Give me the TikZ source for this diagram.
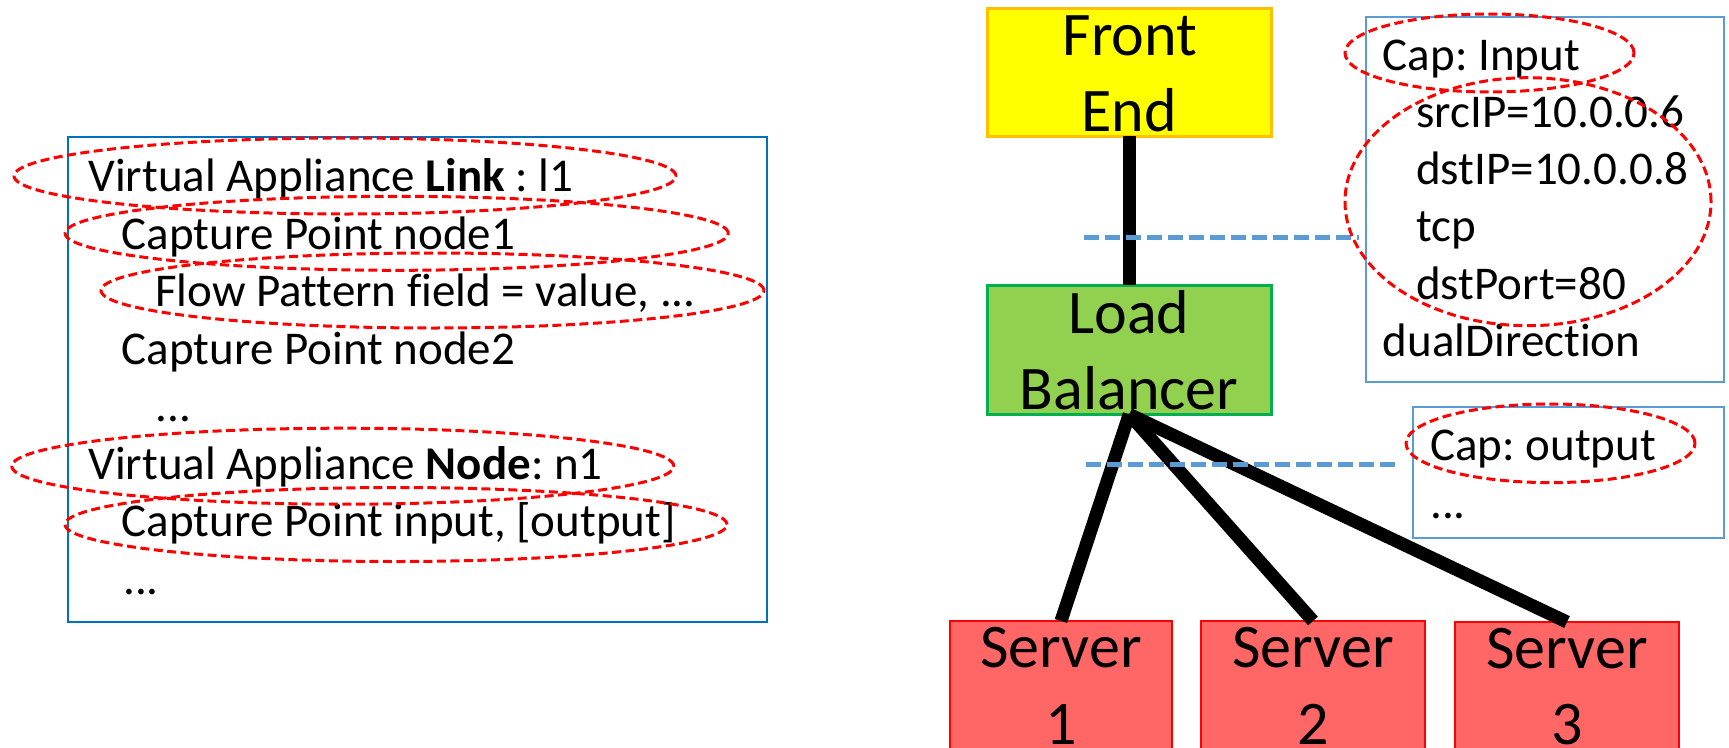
\documentclass[tikz,border=0pt]{standalone}
\usepackage{fontspec}
\setmainfont{Carlito}[Ligatures=NoCommon]
\frenchspacing
\definecolor{feFill}{HTML}{FFFF00}
\definecolor{feLine}{HTML}{FFC000}
\definecolor{lbFill}{HTML}{92D050}
\definecolor{lbLine}{HTML}{00B050}
\definecolor{srvFill}{HTML}{FF6666}
\definecolor{srvLine}{HTML}{FF0000}
\definecolor{specLine}{HTML}{0070C0}
\definecolor{capLine}{HTML}{5B9BD5}
\definecolor{cutLine}{HTML}{5B9BD5}
\definecolor{ovalRed}{HTML}{FF0000}
\begin{document}
\begin{tikzpicture}[x=1pt,y=-1pt,
  box/.style={draw, inner sep=0pt, outer sep=0pt},
  specbox/.style={box, draw=specLine, line width=2pt},
  capbox/.style={box, draw=capLine, line width=2pt},
  febox/.style={box, fill=feFill, draw=feLine, line width=3pt},
  lbbox/.style={box, fill=lbFill, draw=lbLine, line width=3pt},
  srvbox/.style={box, fill=srvFill, draw=srvLine, line width=2.5pt,
    minimum height=169pt},
  small/.style={inner sep=0pt, font=\fontsize{47}{57.5}\selectfont},
  big/.style={inner sep=0pt, anchor=base, font=\fontsize{62}{76}\selectfont},
  link/.style={line width=13pt, black},
  cut/.style={draw=cutLine, line width=5pt, dash pattern=on 15pt off 6pt},
  redoval/.style={draw=ovalRed, line width=3pt, dash pattern=on 9pt off 4.5pt},
]
\useasboundingbox (0,0) rectangle (1729,747);
\clip (0,0) rectangle (1729,747);

% ---------- specification box (left) ----------
\node[specbox, minimum width=699.6pt, minimum height=485pt] (spec) at (417.5,379.2) {};
\node[small, anchor=base west] (t1) at (88.3,191.5) {Virtual Appliance \textbf{Link} : l1};
\node[small, anchor=base west] (t2) at (121.7,249) {Capture Point node1};
\node[small, anchor=base west] (t3) at (155,306.5) {Flow Pattern field = value, ...};
\node[small, anchor=base west] (t4) at (121.7,364) {Capture Point node2};
\node[small, anchor=base west] (t5) at (155.5,421.5) {...};
\node[small, anchor=base west] (t6) at (88.3,479) {Virtual Appliance \textbf{Node}: n1};
\node[small, anchor=base west] (t7) at (121.7,536.5) {Capture Point input, [output]};
\node[small, anchor=base west] (t8) at (123,594) {...};

% ---------- topology ----------
\node[febox, minimum width=283.7pt, minimum height=127.7pt] (fe) at (1129.2,72.2) {};
\node[lbbox, minimum width=283.7pt, minimum height=129.3pt] (lb) at (1129.2,349.7) {};
\node[srvbox, minimum width=222pt] (s1) at (1061,705.5) {};
\node[srvbox, minimum width=224pt] (s2) at (1313,705.5) {};
\node[srvbox, minimum width=224pt] (s3) at (1567,706.5) {};

\node[big] (feA) at (1130,55) {Front};
\node[big] (feB) at (1129,131.7) {End};
\node[big] (lbA) at (1129,333.3) {Load};
\node[big] (lbB) at (1129,409.3) {Balancer};
\node[big] (s1A) at (1061,667.5) {Server};
\node[big] (s1B) at (1061,744) {1};
\node[big] (s2A) at (1313,667.5) {Server};
\node[big] (s2B) at (1313,744) {2};
\node[big] (s3A) at (1567,668) {Server};
\node[big] (s3B) at (1567,744.5) {3};

\draw[link] (fe.south) -- (lb.north);
\draw[link] (lb.south) -- (s1.north);
\draw[link] (lb.south) -- (s2.north);
\draw[link] (lb.south) -- (s3.north);

% ---------- capture boxes (right) ----------
\node[capbox, minimum width=358.3pt, minimum height=365pt] (capin) at (1544.9,199.2) {};
\node[small, anchor=base west] (c1) at (1382.7,70) {Cap: Input};
\node[small, anchor=base west] (c2) at (1416,127.7) {srcIP=10.0.0.6};
\node[small, anchor=base west] (c3) at (1416,184.3) {dstIP=10.0.0.8};
\node[small, anchor=base west] (c4) at (1416,241.7) {tcp};
\node[small, anchor=base west] (c5) at (1416,299.3) {dstPort=80};
\node[small, anchor=base west] (c6) at (1382.7,356.7) {dualDirection};

\node[capbox, minimum width=311.3pt, minimum height=131pt] (capout) at (1568.4,472.8) {};
\node[small, anchor=base west] (o1) at (1430,460) {Cap: output};
\node[small, anchor=base west] (o2) at (1430,518.3) {...};

% ---------- capture cut lines ----------
\coordinate (cutA) at (1084,237.7);
\coordinate (cutB) at (1086,464);
\draw[cut, shorten >=6.7pt] (cutA) -- (cutA -| capin.west);
\draw[cut, shorten >=14.7pt] (cutB) -- (cutB -| capout.west);

% ---------- highlighted items ----------
\draw[redoval] (345,176) ellipse [x radius=331pt, y radius=38pt];
\draw[redoval] (396.7,233.3) ellipse [x radius=331.6pt, y radius=37pt];
\draw[redoval] (432.5,290.5) ellipse [x radius=331.5pt, y radius=37.5pt];
\draw[redoval] (342.8,466.2) ellipse [x radius=331pt, y radius=38pt];
\draw[redoval] (396,524.5) ellipse [x radius=331pt, y radius=37pt];
\draw[redoval] (1489.5,53) ellipse [x radius=144.5pt, y radius=39pt];
\draw[redoval] (1528,201.7) ellipse [x radius=183pt, y radius=124pt];
\draw[redoval] (1550.5,443.3) ellipse [x radius=144.5pt, y radius=39.3pt];
\end{tikzpicture}
\end{document}
